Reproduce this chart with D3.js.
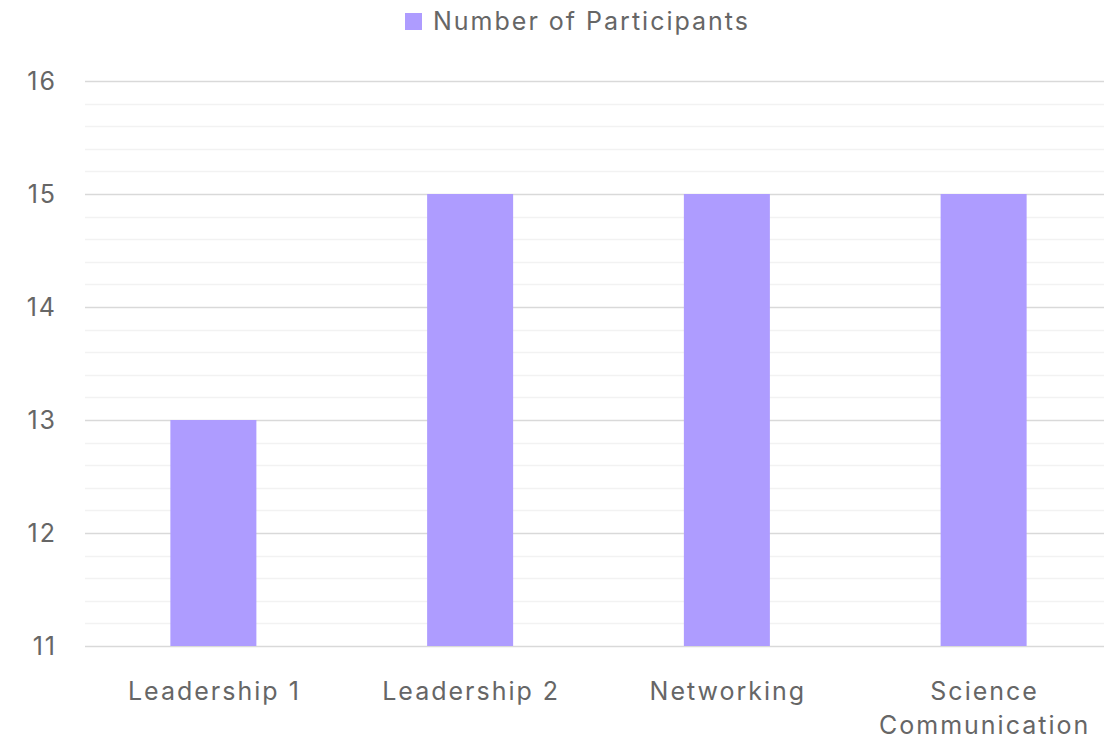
<!DOCTYPE html>
<html>
<head>
<meta charset="utf-8">
<script src="https://cdn.jsdelivr.net/npm/d3@7"></script>
<style>
  body { margin: 0; background: #fff; }
  text { font-family: Inter, "Noto Sans", sans-serif; fill: #666; letter-spacing: 2px; }
</style>
</head>
<body>
<div id="chart"></div>
<script>
// data
var categories = ["Leadership 1", "Leadership 2", "Networking", "Science Communication"];
var participants = [13, 15, 15, 15];
var yTicks = [11, 12, 13, 14, 15, 16];
var seriesName = "Number of Participants";

var W = 1104, H = 741;
var margin = { top: 81, right: -8, bottom: 95, left: 85 },
    width = W - margin.left - margin.right,
    height = H - margin.top - margin.bottom;

var svg = d3.select("#chart")
    .append("svg")
    .attr("width", W)
    .attr("height", H);

var g = svg.append("g")
    .attr("transform", "translate(" + margin.left + "," + margin.top + ")");

var x = d3.scaleBand()
    .domain(categories)
    .range([0, width])
    .paddingInner(0.665)
    .paddingOuter(0.3325);

var y = d3.scaleLinear()
    .domain([11, 16])
    .range([height, 0]);

// minor gridlines
var minor = d3.range(0, 26).map(function(i) { return 11 + i * 0.2; })
    .filter(function(v) { return Math.abs(v - Math.round(v)) > 1e-6; });
g.selectAll(".minor")
    .data(minor)
    .enter().append("line")
    .attr("x1", 0).attr("x2", width)
    .attr("y1", function(d) { return Math.round(y(d)) + 0.5; })
    .attr("y2", function(d) { return Math.round(y(d)) + 0.5; })
    .attr("stroke", "#f2f2f2")
    .attr("stroke-width", 1.5);

// major gridlines
g.selectAll(".major")
    .data(yTicks)
    .enter().append("line")
    .attr("x1", 0).attr("x2", width)
    .attr("y1", function(d) { return Math.round(y(d)) + 0.5; })
    .attr("y2", function(d) { return Math.round(y(d)) + 0.5; })
    .attr("stroke", "#d9d9d9")
    .attr("stroke-width", 1.5);

// bars
g.selectAll("rect")
    .data(participants)
    .enter().append("rect")
    .attr("x", function(d, i) { return x(categories[i]); })
    .attr("y", function(d) { return y(d); })
    .attr("width", x.bandwidth())
    .attr("height", function(d) { return height - y(d); })
    .attr("fill", "#ae9cff");

// y axis labels
var yAxis = g.append("g")
    .call(d3.axisLeft(y).tickValues(yTicks).tickSize(0).tickPadding(28).tickFormat(d3.format("d")));
yAxis.select(".domain").remove();
yAxis.selectAll("text")
    .style("font-size", "25px")
    .attr("fill", "#666");

// x axis labels
var xAxis = g.append("g")
    .attr("transform", "translate(0," + height + ")")
    .call(d3.axisBottom(x).tickSize(0).tickPadding(0));
xAxis.select(".domain").remove();
xAxis.selectAll("text").remove();
xAxis.selectAll(".tick").each(function(d) {
    var t = d3.select(this).append("text")
        .attr("text-anchor", "middle")
        .attr("fill", "#666")
        .style("font-size", "25px");
    var words = d.indexOf("Science") === 0 ? ["Science", "Communication"] : [d];
    words.forEach(function(w, i) {
        t.append("tspan")
            .attr("x", 1)
            .attr("y", 54 + i * 34)
            .text(w);
    });
});

// legend
var legend = svg.append("g").attr("transform", "translate(405,13)");
legend.append("rect")
    .attr("width", 17).attr("height", 17)
    .attr("fill", "#ae9cff");
legend.append("text")
    .attr("x", 28).attr("y", 17)
    .style("font-size", "25px")
    .text(seriesName);
</script>
</body>
</html>
